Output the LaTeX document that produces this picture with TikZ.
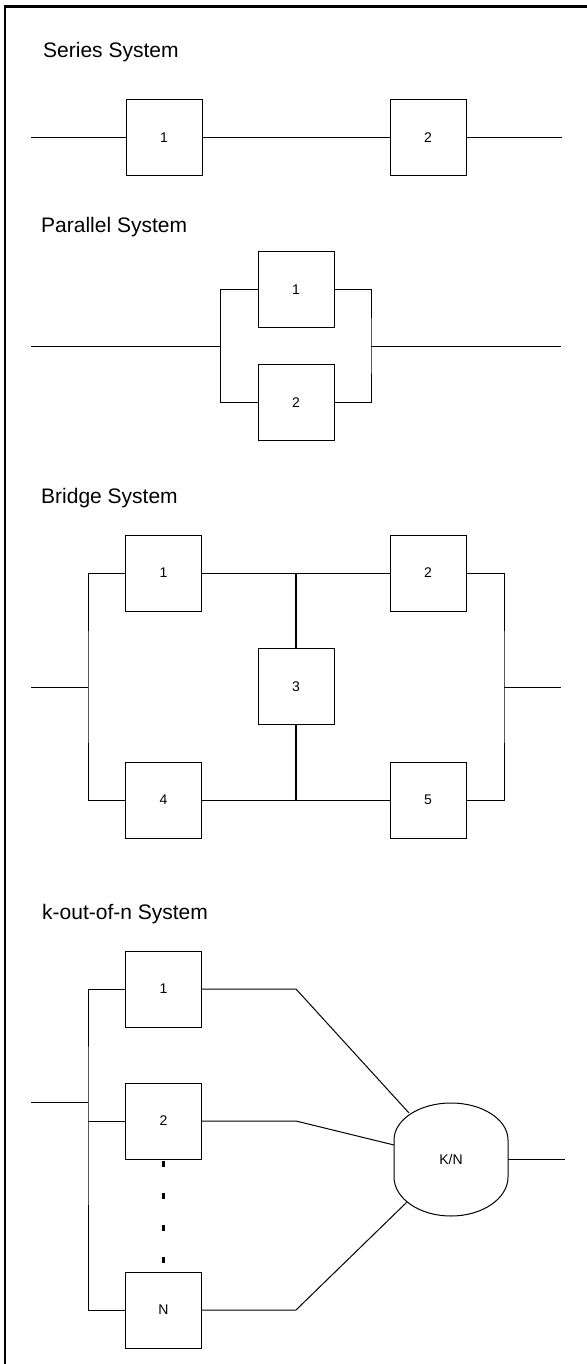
\documentclass[tikz,border=0pt]{standalone}
\usepackage{fontspec}
\setmainfont{Liberation Sans}
\begin{document}
\begin{tikzpicture}[x=1pt,y=-1pt,
  blk/.style={draw, line width=1pt, minimum width=76pt, minimum height=76pt, inner sep=0pt, font=\fontsize{14}{16}\selectfont},
  title/.style={anchor=base west, inner sep=0pt, font=\fontsize{21}{24}\selectfont},
  wire/.style={line width=1pt},
  bridgewire/.style={line width=2pt},
  dots/.style={line width=3pt, dash pattern=on 6pt off 26pt},
  ]
\useasboundingbox (0,0) rectangle (586,1364);
% frame
\draw[line width=2.3pt] (5,1390) -- (5,6.5) -- (610,6.5);

% ---------- Series ----------
\node[title] (t1) at (43,58) {Series System};
\node[blk] (s1) at (164,138) {1};
\node[blk] (s2) at (428,138) {2};
\coordinate (si) at (31,138);
\coordinate (so) at (562,138);
\draw[wire] (si) -- (s1) -- (s2) -- (so);

% ---------- Parallel ----------
\node[title] (t2) at (41,233) {Parallel System};
\node[blk] (p1) at (296,289.5) {1};
\node[blk] (p2) at (296,402.5) {2};
\coordinate (pi) at (31,346);
\coordinate (pl) at (220.5,346);
\coordinate (pr) at (371,346);
\coordinate (po) at (561,346);
\draw[wire] (pi) -- (pl);
\draw[wire] (p1.west) -| (pl) |- (p2.west);
\draw[wire] (p1.east) -| (pr) |- (p2.east);
\draw[wire] (pr) -- (po);

% ---------- Bridge ----------
\node[title] (t3) at (41,503) {Bridge System};
\node[blk] (b1) at (163.5,573) {1};
\node[blk] (b2) at (428,573) {2};
\node[blk] (b3) at (296,686.5) {3};
\node[blk] (b4) at (163.5,800) {4};
\node[blk] (b5) at (428,800) {5};
\coordinate (bi) at (31,687);
\coordinate (bl) at (88,687);
\coordinate (br) at (504,687);
\coordinate (bo) at (561,687);
\coordinate (bt) at (296,573);
\coordinate (bb) at (296,800);
\draw[wire] (bi) -- (bl);
\draw[wire] (b1.west) -| (bl) |- (b4.west);
\draw[wire] (b2.east) -| (br) |- (b5.east);
\draw[wire] (br) -- (bo);
\draw[wire] (b1) -- (b2);
\draw[wire] (b4) -- (b5);
\draw[bridgewire] (bt) -- (b3);
\draw[bridgewire] (b3) -- (bb);

% ---------- k-out-of-n ----------
\node[title] (t4) at (42,919) {k-out-of-n System};
\node[blk] (k1) at (163.5,989) {1};
\node[blk] (k2) at (163.5,1121) {2};
\node[blk] (kN) at (163.5,1310) {N};
\node[minimum width=114pt, minimum height=113pt, inner sep=0pt, font=\fontsize{14}{16}\selectfont] (kn) at (451,1159.5) {K/N};
\draw[wire] (394,1140) .. controls (394,1119.6) and (419.5,1103) .. (451,1103)
  .. controls (482.5,1103) and (508,1119.6) .. (508,1140) -- (508,1177)
  .. controls (508,1198.5) and (482.5,1216) .. (451,1216)
  .. controls (419.5,1216) and (394,1198.5) .. (394,1177) -- cycle;
\coordinate (ki) at (31,1102);
\coordinate (kl) at (88,1102);
\draw[wire] (ki) -- (kl);
\draw[wire] (k1.west) -| (kl) |- (kN.west);
\draw[wire] (k2.west) -- (k2.west -| kl);
\coordinate (j1) at (296,989);
\coordinate (e1) at (409,1113);
\coordinate (j2) at (296,1121);
\coordinate (e2) at (394,1145);
\coordinate (j3) at (296,1310);
\coordinate (e3) at (407,1202);
\coordinate (ko) at (565,1159.5);
\draw[wire] (k1) -- (j1) -- (e1);
\draw[wire] (k2) -- (j2) -- (e2);
\draw[wire] (kN) -- (j3) -- (e3);
\draw[wire] (kn.east) -- (ko);
\draw[dots] ([yshift=-1pt]k2.south) -- ++(0,104);
\end{tikzpicture}
\end{document}
